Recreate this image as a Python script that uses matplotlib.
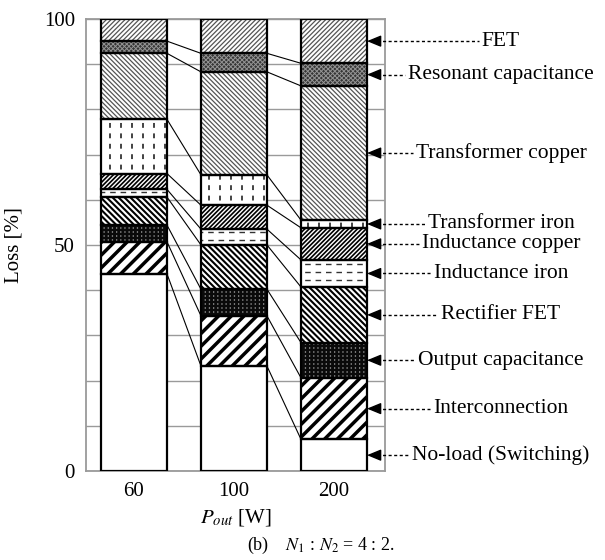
import numpy as np
import matplotlib
matplotlib.use('Agg')
import matplotlib.pyplot as plt
from matplotlib.collections import LineCollection
from matplotlib.transforms import IdentityTransform

plt.rcParams['font.family'] = ['Liberation Serif', 'DejaVu Serif']
plt.rcParams['mathtext.fontset'] = 'stix'
plt.rcParams['lines.scale_dashes'] = False

# ---------- data (loss share in %, bottom to top) ----------
pout = ['60', '100', '200']
no_load = [43.6, 23.2, 7.0]
interconnection = [7.1, 11.1, 13.6]
output_cap = [3.7, 5.9, 7.8]
rectifier_fet = [6.2, 9.8, 12.3]
inductance_iron = [1.7, 3.5, 6.0]
inductance_copper = [3.5, 5.3, 7.1]
transformer_iron = [12.0, 6.7, 1.7]
transformer_copper = [14.6, 22.8, 29.7]
resonant_cap = [2.7, 4.1, 5.0]
fet = [4.9, 7.6, 9.8]

names = ['No-load (Switching)', 'Interconnection', 'Output capacitance', 'Rectifier FET',
         'Inductance iron', 'Inductance copper', 'Transformer iron', 'Transformer copper',
         'Resonant capacitance', 'FET']
series = [no_load, interconnection, output_cap, rectifier_fet, inductance_iron,
          inductance_copper, transformer_iron, transformer_copper, resonant_cap, fet]

# fill style per component: (facecolor, list of stripe specs)
# stripe spec: (angle, spacing_px, lw_pt, color, dash)
styles = [
    ('white', []),
    ('white', [(45, 9.0, 2.5, 'black', None)]),
    ('#0a0a0a', [(0, 4.0, 1.2, '#8a8a8a', (0, (0.9, 2.1)))]),
    ('white', [(-45, 4.2, 1.5, 'black', None)]),
    ('white', [(0, 8.0, 1.0, '#333333', (0, (4.0, 3.5)))]),
    ('white', [(45, 3.1, 1.2, 'black', None)]),
    ('white', [(90, 11.0, 1.2, '#222222', (0, (3.5, 4.0)))]),
    ('white', [(-45, 3.3, 0.9, '#555555', None)]),
    ('#353535', [(45, 3.2, 0.7, '#9a9a9a', None), (-45, 3.2, 0.7, '#9a9a9a', None)]),
    ('white', [(45, 3.3, 0.9, '#555555', None)]),
]

W, H, DPI = 605, 560, 100
fig = plt.figure(figsize=(W / DPI, H / DPI), dpi=DPI)
ax = fig.add_axes([86 / W, 1 - 471 / H, 299 / W, 452 / H])
x = np.arange(len(pout))
bw = 0.66
ax.set_xlim(-0.48, 2.51)
ax.set_ylim(0, 100)

for s in ax.spines.values():
    s.set_color('#9a9a9a')
    s.set_linewidth(1.3)
ax.set_yticks(range(0, 101, 10))
ax.set_yticklabels(['0' if v == 0 else '50' if v == 50 else '100' if v == 100 else '' for v in range(0, 101, 10)])
ax.set_xticks(x)
ax.set_xticklabels(pout)
ax.tick_params(length=0, labelsize=15, pad=8)
ax.grid(axis='y', color='#9a9a9a', lw=1.0)
ax.set_axisbelow(True)
ax.set_ylabel('Loss [%]', fontsize=15)
ax.yaxis.set_label_coords(-(86 - 24) / 299, 0.5)
ax.set_xlabel('$P_{out}$ [W]', fontsize=15, labelpad=4)


def stripes(patch, angle, spacing, lw, color, dash):
    bb = patch.get_window_extent()
    t = np.deg2rad(angle)
    d = np.array([np.cos(t), np.sin(t)])
    n = np.array([-np.sin(t), np.cos(t)])
    corners = np.array([[bb.x0, bb.y0], [bb.x1, bb.y0], [bb.x0, bb.y1], [bb.x1, bb.y1]])
    proj = corners @ n
    L = np.hypot(bb.width, bb.height)
    c = corners.mean(axis=0)
    segs = []
    for k in np.arange(np.floor(proj.min() / spacing) - 1, np.ceil(proj.max() / spacing) + 2):
        p = n * k * spacing
        p = p + d * ((c - p) @ d)
        segs.append([p - d * L, p + d * L])
    lc = LineCollection(segs, colors=color, linewidths=lw,
                        linestyles=dash if dash else 'solid',
                        transform=IdentityTransform(), zorder=2.5)
    ax.add_collection(lc, autolim=False)
    # clip after adding, otherwise the axes patch overrides it
    lc.set_clip_path(patch)


bottoms = np.zeros(len(pout))
tops = []
for vals, (fc, specs) in zip(series, styles):
    vals = np.asarray(vals)
    bars = ax.bar(x, vals, bw, bottom=bottoms, color=fc, edgecolor='none', zorder=2)
    for patch in bars:
        for spec in specs:
            stripes(patch, *spec)
    ax.bar(x, vals, bw, bottom=bottoms, facecolor='none', edgecolor='black', lw=1.6, zorder=3)
    bottoms = bottoms + vals
    tops.append(bottoms.copy())

# connectors between segment boundaries of neighbouring bars
for t in tops[:-1]:
    for i in range(len(pout) - 1):
        ax.plot([x[i] + bw / 2, x[i + 1] - bw / 2], [t[i], t[i + 1]], color='black', lw=0.8, zorder=3)

# labels on the right, pointing at the last bar
fig.canvas.draw()
r = fig.canvas.get_renderer()
tip = x[-1] + bw / 2
prev = 0.0
for name, t in zip(names, tops):
    ymid = (prev + t[-1]) / 2
    prev = t[-1]
    txt = ax.text(3.67, ymid, name, fontsize=15.5, ha='center', va='center', clip_on=False)
    ax.annotate('', xy=(tip, ymid), xytext=(tip + 0.13, ymid), annotation_clip=False,
                arrowprops=dict(arrowstyle='-|>,head_length=0.85,head_width=0.35',
                                color='black', lw=1, shrinkA=0, shrinkB=0))
    x_start = ax.transData.inverted().transform((txt.get_window_extent(r).x0 - 3, 0))[0]
    ax.plot([tip + 0.1, x_start], [ymid, ymid], color='black', lw=1.0,
            ls=(0, (2.2, 1.8)), clip_on=False, zorder=3)

fig.text(0.53, 1 - 545 / H, '(b)    $N_1$ : $N_2$ = 4 : 2.', fontsize=13, ha='center', va='center')

fig.savefig('out.png', dpi=DPI)
